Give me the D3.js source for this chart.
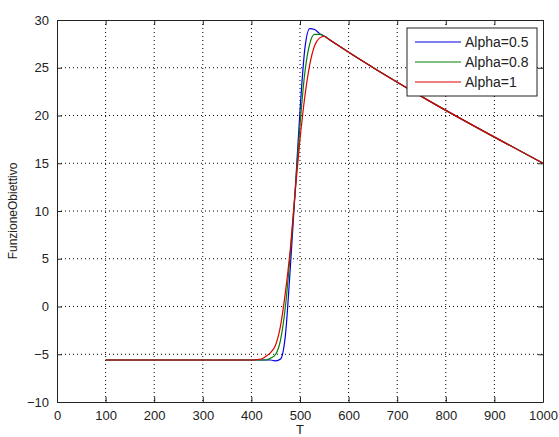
<!DOCTYPE html>
<html>
<head>
<meta charset="utf-8">
<script src="https://cdn.jsdelivr.net/npm/d3@7"></script>
<style>
  body { margin: 0; background: #fff; }
  svg { display: block; font-family: "Liberation Sans", Arial, sans-serif; }
  .grid line { stroke: #000; stroke-dasharray: 1, 3; stroke-width: 1; }
</style>
</head>
<body>
<svg id="chart"></svg>
<script>
const T = [100, 200, 300, 400, 420, 430, 440, 450, 460, 470, 480, 490, 500, 510, 520, 530, 540, 550, 560, 1000];
const alpha05 = [-5.6, -5.6, -5.6, -5.6, -5.6, -5.6, -5.6, -5.7, -5.5, -3, 4, 12, 20.5, 27, 29.1, 29.0, 28.6, 28.3, 27.96, 15];
const alpha08 = [-5.6, -5.6, -5.6, -5.6, -5.6, -5.6, -5.4, -5, -3.5, 0, 5.5, 12, 19, 24.5, 27.5, 28.5, 28.5, 28.3, 27.96, 15];
const alpha1 = [-5.6, -5.6, -5.6, -5.6, -5.5, -5.2, -4.8, -4, -2, 1.5, 6, 12, 17.5, 22, 25.3, 27.3, 28.1, 28.3, 27.96, 15];
const seriesNames = ['Alpha=0.5', 'Alpha=0.8', 'Alpha=1'];
const seriesColors = ['#0000e6', '#008000', '#e00000'];
const xTicks = [0, 100, 200, 300, 400, 500, 600, 700, 800, 900, 1000];
const yTicks = [-10, -5, 0, 5, 10, 15, 20, 25, 30];

const width = 559, height = 437;
const margin = { top: 20, right: 16, bottom: 35, left: 57 };
const innerW = width - margin.left - margin.right;
const innerH = height - margin.top - margin.bottom;

const svg = d3.select('#chart').attr('width', width).attr('height', height);
const chart = svg.append('g').attr('transform', `translate(${margin.left}, ${margin.top})`);

const xScale = d3.scaleLinear().domain([0, 1000]).range([0, innerW]);
const yScale = d3.scaleLinear().domain([-10, 30]).range([innerH, 0]);

// grid
chart.append('g').attr('class', 'grid')
  .selectAll('line').data(xTicks.slice(1, -1)).join('line')
  .attr('x1', d => xScale(d)).attr('x2', d => xScale(d))
  .attr('y1', 0).attr('y2', innerH);
chart.append('g').attr('class', 'grid')
  .selectAll('line').data(yTicks.slice(1, -1)).join('line')
  .attr('y1', d => yScale(d)).attr('y2', d => yScale(d))
  .attr('x1', 0).attr('x2', innerW);

// axes (MATLAB box style, ticks inside)
const styleAxis = g => {
  g.select('.domain').attr('stroke', '#222');
  g.selectAll('.tick line').attr('stroke', '#222');
  g.selectAll('.tick text').attr('fill', '#222').style('font-size', '13px')
    .style('font-family', '"Liberation Sans", Arial, sans-serif');
};
chart.append('g').attr('transform', `translate(0, ${innerH})`)
  .call(d3.axisBottom(xScale).tickValues(xTicks).tickFormat(d3.format('d'))
    .tickSizeInner(-5).tickSizeOuter(0).tickPadding(9))
  .call(styleAxis);
chart.append('g')
  .call(d3.axisLeft(yScale).tickValues(yTicks).tickSizeInner(-5).tickSizeOuter(0).tickPadding(8))
  .call(styleAxis);
chart.append('g')
  .call(d3.axisTop(xScale).tickValues(xTicks).tickSizeInner(-5).tickSizeOuter(0).tickFormat(''))
  .call(styleAxis);
chart.append('g').attr('transform', `translate(${innerW}, 0)`)
  .call(d3.axisRight(yScale).tickValues(yTicks).tickSizeInner(-5).tickSizeOuter(0).tickFormat(''))
  .call(styleAxis);

// lines
const allSeries = [alpha05, alpha08, alpha1];
const line = d3.line()
  .x((d, i) => xScale(T[i]))
  .y(d => yScale(d))
  .curve(d3.curveMonotoneX);
chart.selectAll('.series').data(allSeries).join('path')
  .attr('class', 'series')
  .attr('fill', 'none')
  .attr('stroke', (d, i) => seriesColors[i])
  .attr('stroke-width', 1.2)
  .attr('d', line);

// axis labels
svg.append('text')
  .attr('x', margin.left + xScale(500)).attr('y', 434)
  .attr('text-anchor', 'middle').style('font-size', '13px').attr('fill', '#222')
  .text('T');
svg.append('text')
  .attr('transform', `translate(17, ${margin.top + innerH / 2}) rotate(-90)`)
  .attr('text-anchor', 'middle').style('font-size', '12px').attr('fill', '#222')
  .text('FunzioneObiettivo');

// legend
const legend = svg.append('g').attr('transform', 'translate(407, 28)');
legend.append('rect')
  .attr('width', 130).attr('height', 68)
  .attr('fill', '#fff').attr('stroke', '#222');
const items = legend.selectAll('.item').data(seriesNames).join('g')
  .attr('class', 'item')
  .attr('transform', (d, i) => `translate(0, ${14 + i * 20})`);
items.append('line')
  .attr('x1', 8).attr('x2', 54)
  .attr('stroke', (d, i) => seriesColors[i]).attr('stroke-width', 1.2);
items.append('text')
  .attr('x', 58).attr('dy', '0.35em')
  .style('font-size', '14px').attr('fill', '#222')
  .text(d => d);
</script>
</body>
</html>
